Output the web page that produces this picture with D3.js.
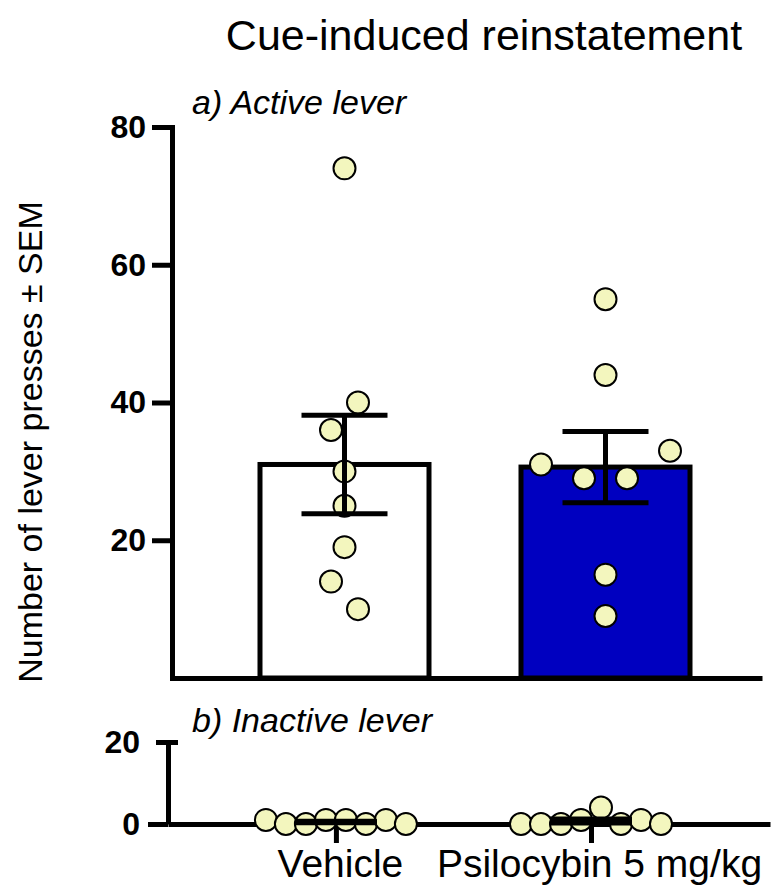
<!DOCTYPE html>
<html>
<head>
<meta charset="utf-8">
<script src="https://cdn.jsdelivr.net/npm/d3@7"></script>
<style>
  body { margin: 0; background: #fff; }
  svg { font-family: "Liberation Sans", Arial, sans-serif; }
</style>
</head>
<body>
<svg id="chart" width="775" height="886"></svg>
<script>
// groups
const groups = ["Vehicle", "Psilocybin 5 mg/kg"];
const barColors = ["#ffffff", "#0000c0"];

// a) active lever presses, one value per rat
const activeVehicle = [74, 36, 40, 30, 25, 19, 14, 10];
const activePsilo = [55, 44, 31, 29, 29, 33, 15, 9];

// b) inactive lever presses
const inactiveVehicle = [1, 0, 0, 1, 1, 0, 1, 0];
const inactivePsilo = [0, 0, 0, 1, 4, 0, 1, 0];

const activeTicks = [20, 40, 60, 80];
const inactiveTicks = [0, 20];

const dotFill = "#f3f6be";
const dotR = 11;
const lineW = 5;

const svg = d3.select("#chart");

const sem = v => d3.deviation(v) / Math.sqrt(v.length);

// spread points that sit close together in value across the band
const swarm = (values, y) => {
  const order = d3.range(values.length).sort((a, b) => values[b] - values[a]);
  const offsets = new Array(values.length).fill(0);
  let cluster = [order[0]];
  const flush = () => {
    const members = cluster.slice().sort((a, b) => a - b);
    const n = members.length;
    const gap = n === 2 ? 27 : Math.min(43, 140 / (n - 1));
    members.forEach((m, i) => { offsets[m] = (i - (n - 1) / 2) * gap; });
  };
  for (let i = 1; i < order.length; i++) {
    const prev = cluster[cluster.length - 1];
    if (Math.abs(y(values[order[i]]) - y(values[prev])) < 34) {
      cluster.push(order[i]);
    } else {
      flush();
      cluster = [order[i]];
    }
  }
  flush();
  return offsets;
};

const styleTickText = g => g.selectAll(".tick text")
  .attr("font-size", 32).attr("font-weight", "bold").attr("fill", "#000")
  .attr("font-family", "'Liberation Sans', Arial, sans-serif");

// ---- panel a ----
const xA = d3.scaleBand()
  .domain(groups)
  .range([172, 762])
  .paddingInner(0.3525)
  .paddingOuter(0.3065)
  .align(0.55);

const yA = d3.scaleLinear().domain([0, 80]).range([678, 127]);

const activeData = [activeVehicle, activePsilo].map((vals, i) => ({
  group: groups[i],
  values: vals,
  mean: d3.mean(vals),
  sem: sem(vals),
  color: barColors[i]
}));

const panelA = svg.append("g");

panelA.selectAll("rect.bar")
  .data(activeData)
  .join("rect")
  .attr("class", "bar")
  .attr("x", d => xA(d.group))
  .attr("y", d => yA(d.mean))
  .attr("width", xA.bandwidth())
  .attr("height", d => yA(0) - yA(d.mean))
  .attr("fill", d => d.color)
  .attr("stroke", "#000")
  .attr("stroke-width", lineW);

activeData.forEach(d => {
  const offs = swarm(d.values, yA);
  const cx = xA(d.group) + xA.bandwidth() / 2;
  panelA.append("g")
    .selectAll("circle")
    .data(d.values)
    .join("circle")
    .attr("cx", (v, i) => cx + offs[i])
    .attr("cy", v => yA(v))
    .attr("r", dotR)
    .attr("fill", dotFill)
    .attr("stroke", "#000")
    .attr("stroke-width", 2);

  const err = panelA.append("g")
    .attr("stroke", "#000")
    .attr("stroke-width", lineW);
  err.append("line")
    .attr("x1", cx).attr("x2", cx)
    .attr("y1", yA(d.mean - d.sem)).attr("y2", yA(d.mean + d.sem));
  [d.mean - d.sem, d.mean + d.sem].forEach(v => {
    err.append("line")
      .attr("x1", cx - 43).attr("x2", cx + 43)
      .attr("y1", yA(v)).attr("y2", yA(v));
  });
});

panelA.append("g")
  .attr("transform", `translate(0,${yA(0)})`)
  .call(d3.axisBottom(xA).tickSize(0).tickSizeOuter(0).tickFormat(""))
  .call(g => g.select(".domain").attr("stroke-width", lineW));

panelA.append("g")
  .attr("transform", "translate(172,0)")
  .call(d3.axisLeft(yA).tickValues(activeTicks).tickSize(20).tickSizeOuter(0).tickPadding(6))
  .call(g => g.select(".domain").attr("stroke-width", lineW).attr("stroke-linecap", "square"))
  .call(g => g.selectAll(".tick line").attr("stroke-width", lineW))
  .call(styleTickText);

// ---- panel b ----
const xB = d3.scalePoint()
  .domain(groups)
  .range([168, 770])
  .padding(0.68)
  .align(0.484);

const yB = d3.scaleLinear().domain([0, 20]).range([824, 742]);

const inactiveData = [inactiveVehicle, inactivePsilo].map((vals, i) => ({
  group: groups[i],
  values: vals,
  mean: d3.mean(vals),
  sem: sem(vals)
}));

const panelB = svg.append("g");

panelB.append("g")
  .attr("transform", "translate(168,0)")
  .call(d3.axisLeft(yB).tickValues(inactiveTicks).tickSize(20).tickSizeOuter(0).tickPadding(8))
  .call(g => g.select(".domain").attr("stroke-width", lineW))
  .call(g => g.selectAll(".tick line")
    .attr("stroke-width", lineW)
    .attr("x1", d => d === 0 ? 0 : 10)
    .attr("x2", d => d === 0 ? -20 : -12))
  .call(styleTickText);

panelB.append("g")
  .attr("transform", `translate(0,${yB(0)})`)
  .call(d3.axisBottom(xB).tickSize(19).tickSizeOuter(0).tickPadding(6))
  .call(g => g.select(".domain").attr("stroke-width", lineW))
  .call(g => g.selectAll(".tick line").attr("stroke-width", lineW))
  .call(g => g.selectAll(".tick text")
    .attr("font-size", 39).attr("fill", "#000")
    .attr("dx", (d, i) => i === 0 ? 4 : 8)
    .attr("font-family", "'Liberation Sans', Arial, sans-serif"));

inactiveData.forEach(d => {
  const offs = swarm(d.values, yB);
  const cx = xB(d.group);
  panelB.append("g")
    .selectAll("circle")
    .data(d.values)
    .join("circle")
    .attr("cx", (v, i) => cx + offs[i])
    .attr("cy", v => yB(v))
    .attr("r", dotR)
    .attr("fill", dotFill)
    .attr("stroke", "#000")
    .attr("stroke-width", 2);

  const err = panelB.append("g")
    .attr("stroke", "#000")
    .attr("stroke-width", lineW);
  [d.mean, d.mean - d.sem, d.mean + d.sem].forEach(v => {
    err.append("line")
      .attr("x1", cx - 41).attr("x2", cx + 41)
      .attr("y1", yB(v)).attr("y2", yB(v));
  });
  err.append("line")
    .attr("x1", cx).attr("x2", cx)
    .attr("y1", yB(d.mean - d.sem)).attr("y2", yB(d.mean + d.sem));
});

// ---- texts ----
svg.append("text")
  .attr("x", 484).attr("y", 50)
  .attr("text-anchor", "middle")
  .attr("font-size", 43)
  .text("Cue-induced reinstatement");

svg.append("text")
  .attr("x", 192).attr("y", 114)
  .attr("font-size", 34).attr("font-style", "italic")
  .text("a) Active lever");

svg.append("text")
  .attr("x", 192).attr("y", 732)
  .attr("font-size", 34).attr("font-style", "italic")
  .text("b) Inactive lever");

svg.append("text")
  .attr("transform", "translate(42,442) rotate(-90)")
  .attr("text-anchor", "middle")
  .attr("font-size", 34)
  .text("Number of lever presses ± SEM");
</script>
</body>
</html>
